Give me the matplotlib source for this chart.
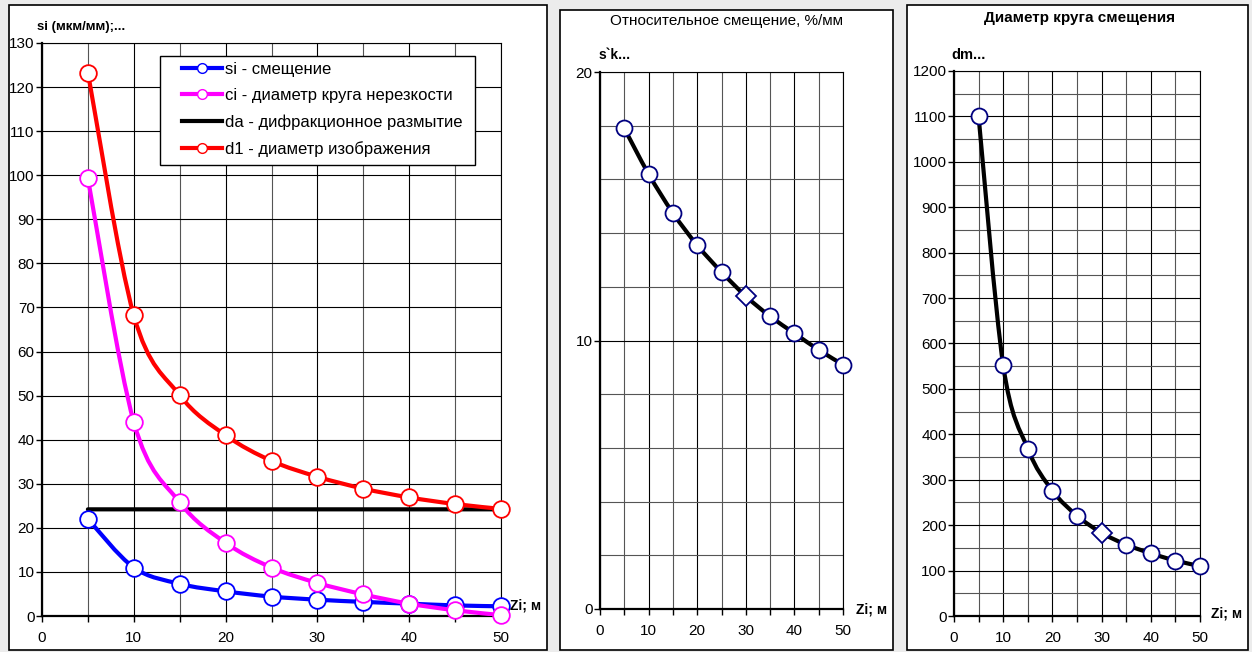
import numpy as np
import matplotlib
matplotlib.use("Agg")
import matplotlib.pyplot as plt
from matplotlib.path import Path
from matplotlib.patches import PathPatch, Rectangle
from matplotlib.lines import Line2D
from matplotlib.ticker import MultipleLocator

plt.rcParams['font.family'] = ['Liberation Sans', 'DejaVu Sans']

W, H = 1252, 652

# Data
z = [5, 10, 15, 20, 25, 30, 35, 40, 45, 50]
si = [22.0, 11.0, 7.3, 5.6, 4.4, 3.7, 3.2, 2.8, 2.4, 2.2]
ci = [99.3, 44.0, 25.8, 16.6, 11.0, 7.5, 4.9, 2.8, 1.3, 0.2]
da = [24.2, 24.2, 24.2, 24.2, 24.2, 24.2, 24.2, 24.2, 24.2, 24.2]
d1 = [123.3, 68.2, 50.1, 41.0, 35.2, 31.6, 28.9, 26.9, 25.4, 24.3]
sk = [17.9, 16.2, 14.75, 13.55, 12.55, 11.65, 10.9, 10.27, 9.65, 9.1]
dm = [1100, 552, 368, 276, 221, 183, 157, 138, 122, 110]
mark_z = 30  # point drawn as a diamond on the right two charts

labels = ["si - смещение", "ci - диаметр круга нерезкости",
          "da - дифракционное размытие", "d1 - диаметр изображения"]
colors = ["#0000ff", "#ff00ff", "#000000", "#ff0000"]


def px(x, y):
    return x / W, 1 - y / H


def ax_box(x0, y0, x1, y1):
    # pixel corners (top-left origin) -> figure fraction rect
    return [x0 / W, 1 - y1 / H, (x1 - x0) / W, (y1 - y0) / H]


def smooth(ax, x, y, color, lw, z):
    # Excel-like smoothed line: cubic Bezier through the data points
    p = np.column_stack([x, y]).astype(float)
    verts, codes = [p[0]], [Path.MOVETO]
    n = len(p)
    for i in range(n - 1):
        p0 = p[i - 1] if i > 0 else p[i]
        p3 = p[i + 2] if i + 2 < n else p[i + 1]
        verts += [p[i] + (p[i + 1] - p0) / 6, p[i + 1] - (p3 - p[i]) / 6, p[i + 1]]
        codes += [Path.CURVE4] * 3
    ax.add_patch(PathPatch(Path(verts, codes), fill=False, edgecolor=color,
                           lw=lw, capstyle='round', joinstyle='round', zorder=z))


def style_axes(ax, xmaj, xmin, ymaj, ymin):
    ax.xaxis.set_major_locator(MultipleLocator(xmaj))
    ax.xaxis.set_minor_locator(MultipleLocator(xmin))
    ax.yaxis.set_major_locator(MultipleLocator(ymaj))
    ax.yaxis.set_minor_locator(MultipleLocator(ymin))
    ax.grid(True, which='major', color='black', lw=0.8, zorder=0)
    ax.grid(True, which='minor', color='#555555', lw=0.8, zorder=0)
    ax.set_axisbelow(True)
    ax.tick_params(axis='both', which='major', direction='out', length=4,
                   width=1, labelsize=11, pad=1.3, color='black')
    ax.tick_params(axis='x', which='major', pad=7)
    ax.tick_params(axis='x', which='minor', direction='out', length=4, width=1)
    ax.tick_params(axis='y', which='minor', length=0)
    for s in ['left', 'bottom']:
        ax.spines[s].set_linewidth(1.6)
    for s in ['top', 'right']:
        ax.spines[s].set_linewidth(0.8)
    ax.set_facecolor('white')


def markers(ax, vals, ec):
    circ = [i for i, v in enumerate(z) if v != mark_z]
    diam = [i for i, v in enumerate(z) if v == mark_z]
    ax.plot(z, vals, 'o', ls='none', markevery=circ, ms=11.5, mfc='white',
            mec=ec, mew=1.3, zorder=4, clip_on=False)
    ax.plot(z, vals, 'D', ls='none', markevery=diam, ms=10, mfc='white',
            mec=ec, mew=1.3, zorder=4, clip_on=False)


fig = plt.figure(figsize=(W / 100, H / 100), dpi=100, facecolor='#ececec')

# panel frames
for (x0, y0, x1, y1) in [(9, 5, 547, 650), (560, 10, 893, 650), (907, 5, 1248, 650)]:
    fig.patches.append(Rectangle(px(x0, y1), (x1 - x0) / W, (y1 - y0) / H,
                                 transform=fig.transFigure, facecolor='white',
                                 edgecolor='black', lw=1.2, zorder=-5))

# ---- left chart
ax1 = fig.add_axes(ax_box(42, 43, 501, 616))
ax1.set_xlim(0, 50)
ax1.set_ylim(0, 130)
style_axes(ax1, 10, 5, 10, 10)
series = [si, ci, da, d1]
zorders = [4, 5, 3, 6]
for vals, c, zo, i in zip(series, colors, zorders, range(4)):
    smooth(ax1, z, vals, c, 3, zo)
    if i != 2:
        ax1.plot(z, vals, 'o', ms=12, mfc='white', mec=c, mew=1.3,
                 zorder=zo + 0.5, clip_on=False)
handles = []
for i, c in enumerate(colors):
    if i == 2:
        handles.append(Line2D([], [], color=c, lw=3))
    else:
        handles.append(Line2D([], [], color=c, lw=3, marker='o', ms=7,
                              mfc='white', mec=c, mew=1))
# legend frame (Excel style box)
ax1.add_patch(Rectangle((12.8, 102.3), 34.4, 24.7, facecolor='white',
                        edgecolor='black', lw=1, zorder=9))
leg = ax1.legend(handles, labels, loc='upper left', bbox_to_anchor=(15.3, 125.7),
                 bbox_transform=ax1.transData, fontsize=12, frameon=False,
                 handlelength=2.4, handletextpad=0.15, labelspacing=0.67,
                 borderpad=0, borderaxespad=0)
leg.set_zorder(10)
fig.text(*px(37, 27), "si (мкм/мм);...", fontsize=9.5, fontweight='bold', va='center')
fig.text(*px(510, 606), "Zi; м", fontsize=10, fontweight='bold', va='center')

# ---- middle chart
ax2 = fig.add_axes(ax_box(600, 72, 843, 609))
ax2.set_xlim(0, 50)
ax2.set_ylim(0, 20)
style_axes(ax2, 10, 5, 10, 2)
smooth(ax2, z, sk, 'black', 3, 3)
markers(ax2, sk, '#000080')
fig.text(*px(726, 21), "Относительное смещение, %/мм", fontsize=11, ha='center', va='center')
fig.text(*px(599, 55), "s`k...", fontsize=10, fontweight='bold', va='center')
fig.text(*px(856, 610), "Zi; м", fontsize=10, fontweight='bold', va='center')

# ---- right chart
ax3 = fig.add_axes(ax_box(954, 71, 1200, 616))
ax3.set_xlim(0, 50)
ax3.set_ylim(0, 1200)
style_axes(ax3, 10, 5, 100, 50)
smooth(ax3, z, dm, 'black', 3, 3)
markers(ax3, dm, '#000080')
fig.text(*px(1080, 18), "Диаметр круга смещения", fontsize=11, fontweight='bold',
         ha='center', va='center')
fig.text(*px(951, 55), "dm...", fontsize=10.5, fontweight='bold', va='center')
fig.text(*px(1211, 613), "Zi; м", fontsize=10, fontweight='bold', va='center')

fig.savefig("out.png", dpi=100, facecolor=fig.get_facecolor())
